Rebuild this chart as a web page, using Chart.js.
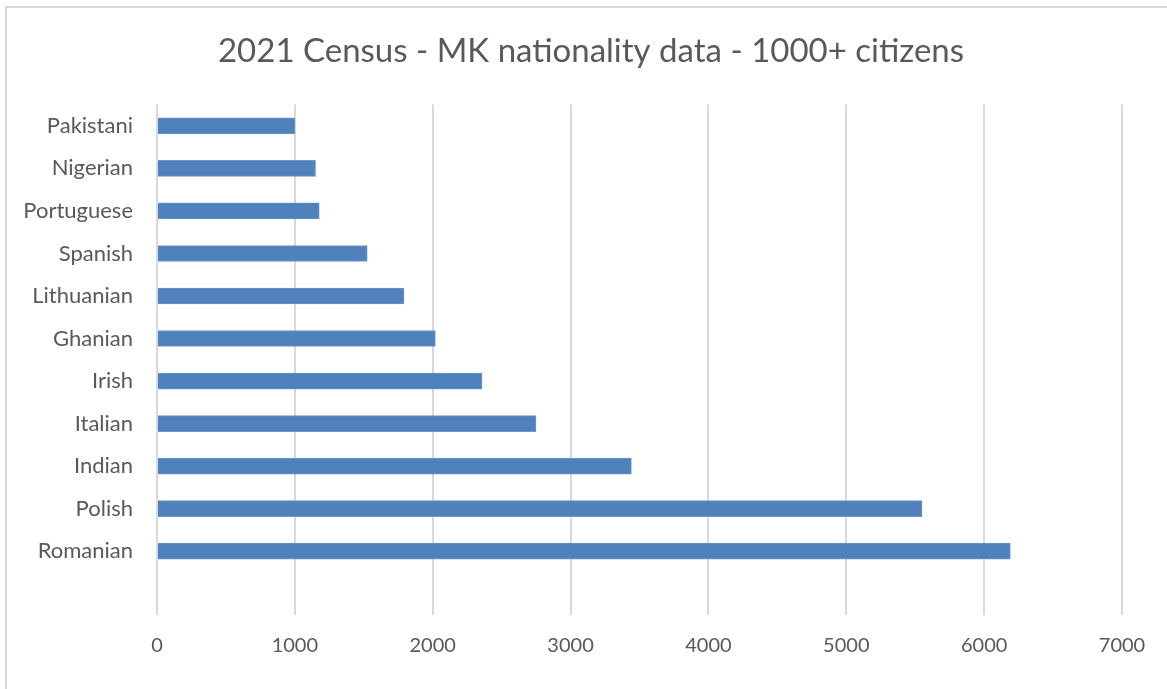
<!DOCTYPE html>
<html>
<head>
<meta charset="utf-8">
<script src="https://cdn.jsdelivr.net/npm/chart.js@4"></script>
<style>
  body { margin: 0; background: #fff; overflow: hidden; }
  #wrap { position: relative; width: 1167px; height: 689px; }
  #frame { position: absolute; left: 5px; top: 6px; width: 1200px; height: 720px; border: 2px solid #dadada; box-sizing: border-box; }
  #chart { position: absolute; left: 0; top: 0; }
</style>
</head>
<body>
<div id="wrap">
  <div id="frame"></div>
  <canvas id="chart" width="1167" height="689"></canvas>
</div>
<script>
// values
const categories = ['Pakistani', 'Nigerian', 'Portuguese', 'Spanish', 'Lithuanian', 'Ghanian', 'Irish', 'Italian', 'Indian', 'Polish', 'Romanian'];
const citizens = [1000, 1150, 1177, 1525, 1792, 2019, 2358, 2749, 3441, 5549, 6190];
const xTicks = [0, 1000, 2000, 3000, 4000, 5000, 6000, 7000];

const textColor = '#595959';
const fontFamily = 'Lato, "Liberation Sans", sans-serif';

// the original plot keeps one empty slot below the last bar
const labels = categories.concat(['']);
const values = citizens.concat([null]);

// centre the title over the whole frame, not just the padded canvas
const titleCentre = {
    id: 'titleCentre',
    afterLayout(chart) {
        if (chart.titleBlock) {
            chart.titleBlock.left = 0;
            chart.titleBlock.right = 1182;
        }
    }
};

const ctx = document.getElementById('chart').getContext('2d');
const chart = new Chart(ctx, {
    type: 'bar',
    data: {
        labels: labels,
        datasets: [{
            label: 'Citizens',
            data: values,
            backgroundColor: '#4f81bd',
            borderColor: '#6f95c8',
            borderWidth: 1,
            borderSkipped: 'start',
            barThickness: 16
        }]
    },
    options: {
        indexAxis: 'y',
        responsive: false,
        animation: false,
        devicePixelRatio: 1,
        layout: {
            padding: { left: 7, right: 45, top: 0, bottom: 12 }
        },
        plugins: {
            legend: { display: false },
            tooltip: { enabled: false },
            title: {
                display: true,
                text: '2021 Census - MK nationality data - 1000+ citizens',
                color: textColor,
                font: { family: fontFamily, size: 33, weight: 'normal', lineHeight: 1.2 },
                padding: { top: 32, bottom: 33 }
            }
        },
        scales: {
            x: {
                min: xTicks[0],
                max: xTicks[xTicks.length - 1],
                border: { display: false },
                grid: { color: '#d9d9d9', lineWidth: 2, drawTicks: false },
                ticks: {
                    stepSize: xTicks[1] - xTicks[0],
                    padding: 19,
                    color: textColor,
                    font: { family: fontFamily, size: 20 },
                    callback: v => String(v)
                }
            },
            y: {
                border: { display: false },
                grid: { display: false, drawTicks: false },
                afterFit: scale => { scale.width = 150; },
                ticks: {
                    padding: 24,
                    color: textColor,
                    font: { family: fontFamily, size: 22 }
                }
            }
        }
    },
    plugins: [titleCentre]
});
</script>
</body>
</html>
